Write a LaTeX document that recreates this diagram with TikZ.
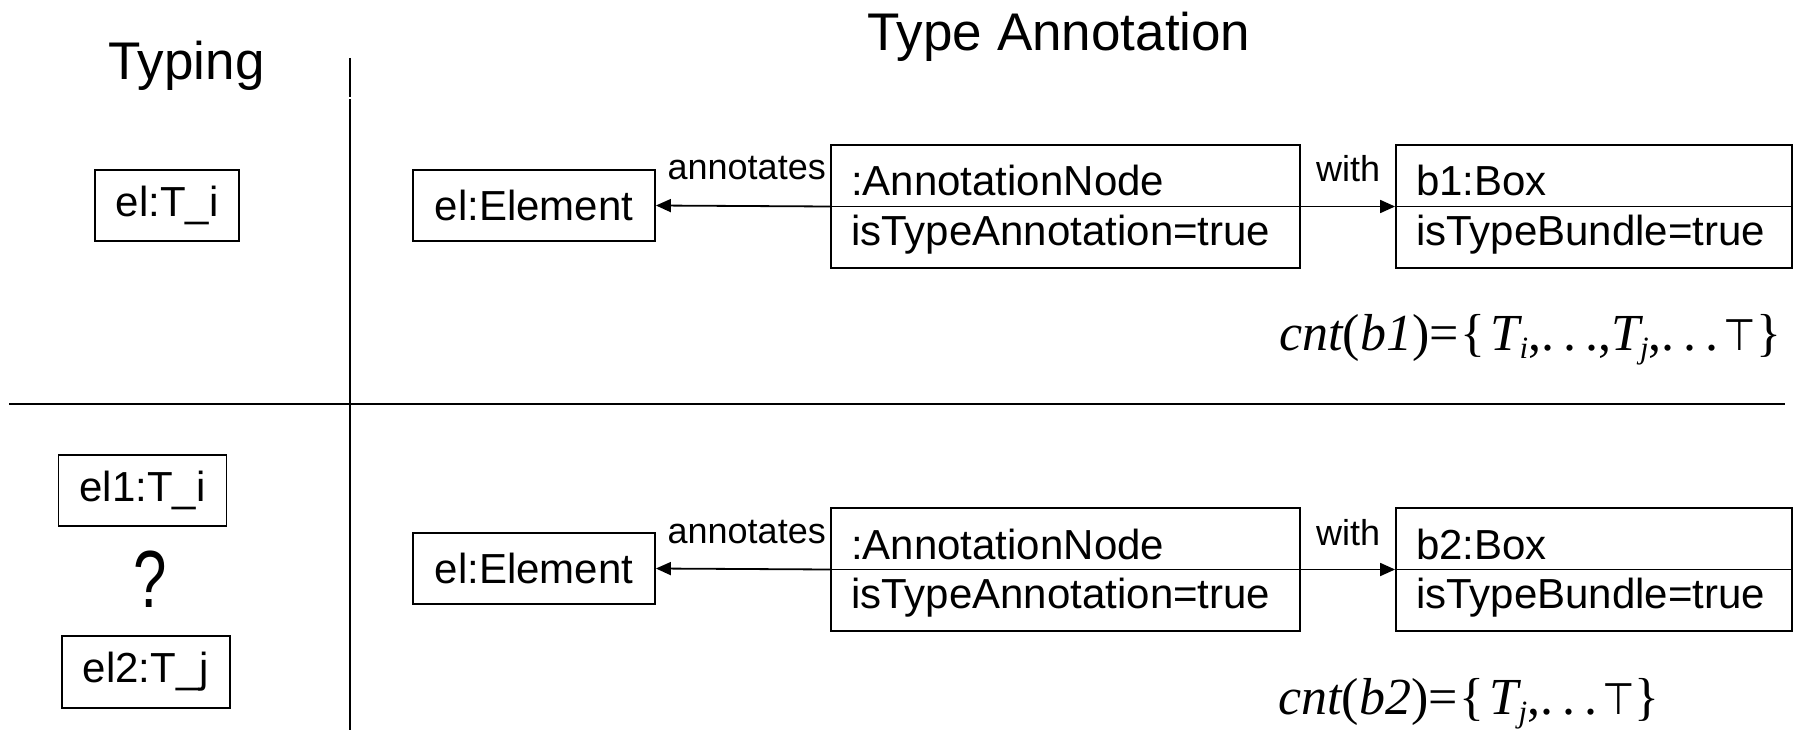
\documentclass[tikz,border=0pt]{standalone}
\usepackage{fontspec}
\setmainfont{Liberation Sans}
\newfontfamily\tmsfont{Liberation Serif}
\newfontfamily\djvfont{DejaVu Sans}
\usetikzlibrary{arrows.meta}
\newcommand\fsub[1]{\raisebox{-8pt}{\fontsize{31}{31}\selectfont\itshape #1}}
\newcommand\fdots{.\hspace{9pt}.\hspace{9pt}.}
\newcommand\ftop{{\djvfont\fontsize{44}{44}\selectfont\scalebox{0.85}[1]{⊤}}}
\begin{document}
\begin{tikzpicture}[x=1pt,y=-1pt,
  obj/.style={draw, line width=1.8pt, inner sep=0pt, font=\fontsize{42}{50}\selectfont},
  cmp/.style={draw, line width=1.8pt, inner sep=0pt},
  attr/.style={inner sep=0pt, anchor=base west, font=\fontsize{42}{50}\selectfont},
  lbl/.style={inner sep=0pt, font=\fontsize{36}{44}\selectfont},
  head/.style={inner sep=0pt, anchor=base, font=\fontsize{53}{60}\selectfont},
  frm/.style={inner sep=0pt, anchor=base west, font=\tmsfont\fontsize{52}{58}\selectfont},
  qmark/.style={inner sep=0pt, font=\fontsize{60}{66}\selectfont},
  rule/.style={line width=1.8pt},
  conn/.style={line width=1.8pt, -{Triangle[length=15pt,width=13pt]}}]
\useasboundingbox (0,0) rectangle (1793,730);

% headings and separators
\node[head] (h1) at (186.5,80) {Typing};
\node[head] (h2) at (1059,51) {Type Annotation};
\coordinate (vt) at (350,58);
\coordinate (vg1) at (350,97);
\coordinate (vg2) at (350,99);
\coordinate (vb) at (350,730);
\draw[rule] (vt) -- (vg1);
\draw[rule] (vg2) -- (vb);
\coordinate (hl) at (9,404);
\coordinate (hr) at (1785,404);
\draw[rule] (hl) -- (hr);

% row 1
\node[obj, minimum width=144, minimum height=71] (ti) at (167,205.5) {el:T\_i};
\node[obj, minimum width=242, minimum height=71] (ea) at (534,205.5) {el:Element};
\node[cmp, minimum width=469, minimum height=123] (an1) at (1065.5,206.5) {};
\draw[rule] (an1.west) -- (an1.east);
\node[attr] (an1t) at (851,196) {:AnnotationNode};
\node[attr] (an1b) at (851,245) {isTypeAnnotation=true};
\node[cmp, minimum width=396, minimum height=123] (b1) at (1594,206.5) {};
\draw[rule] (b1.west) -- (b1.east);
\node[attr] (b1t) at (1416,196) {b1:Box};
\node[attr] (b1b) at (1416,245) {isTypeBundle=true};
\draw[conn] (an1.west) -- (ea.east);
\draw[conn] (an1.east) -- (b1.west);
\node[lbl, anchor=base east] (l1) at (826,180) {annotates};
\node[lbl, anchor=base west] (w1) at (1316,182) {with};
\node[frm] (f1) at (1279,350) {{\itshape cnt}({\itshape b1})=\hspace{2pt}\{\hspace{5pt}{\itshape T}\fsub{i},\fdots,{\itshape T}\fsub{j},\fdots\hspace{5pt}\ftop\}};

% row 2
\node[obj, minimum width=168, minimum height=71] (ti2) at (142.5,490.5) {el1:T\_i};
\node[qmark] (q) at (150,579.5) {\scalebox{1}[1.35]{?}};
\node[obj, minimum width=168, minimum height=72] (tj2) at (146,672) {el2:T\_j};
\node[obj, minimum width=242, minimum height=71] (eb) at (534,568.5) {el:Element};
\node[cmp, minimum width=469, minimum height=123] (an2) at (1065.5,569.5) {};
\draw[rule] (an2.west) -- (an2.east);
\node[attr] (an2t) at (851,559) {:AnnotationNode};
\node[attr] (an2b) at (851,608) {isTypeAnnotation=true};
\node[cmp, minimum width=396, minimum height=123] (b2) at (1594,569.5) {};
\draw[rule] (b2.west) -- (b2.east);
\node[attr] (b2t) at (1416,559) {b2:Box};
\node[attr] (b2b) at (1416,608) {isTypeBundle=true};
\draw[conn] (an2.west) -- (eb.east);
\draw[conn] (an2.east) -- (b2.west);
\node[lbl, anchor=base east] (l2) at (826,543) {annotates};
\node[lbl, anchor=base west] (w2) at (1316,545) {with};
\node[frm] (f2) at (1278,714) {{\itshape cnt}({\itshape b2})=\hspace{2pt}\{\hspace{5pt}{\itshape T}\fsub{j},\fdots\hspace{5pt}\ftop\}};
\end{tikzpicture}
\end{document}
